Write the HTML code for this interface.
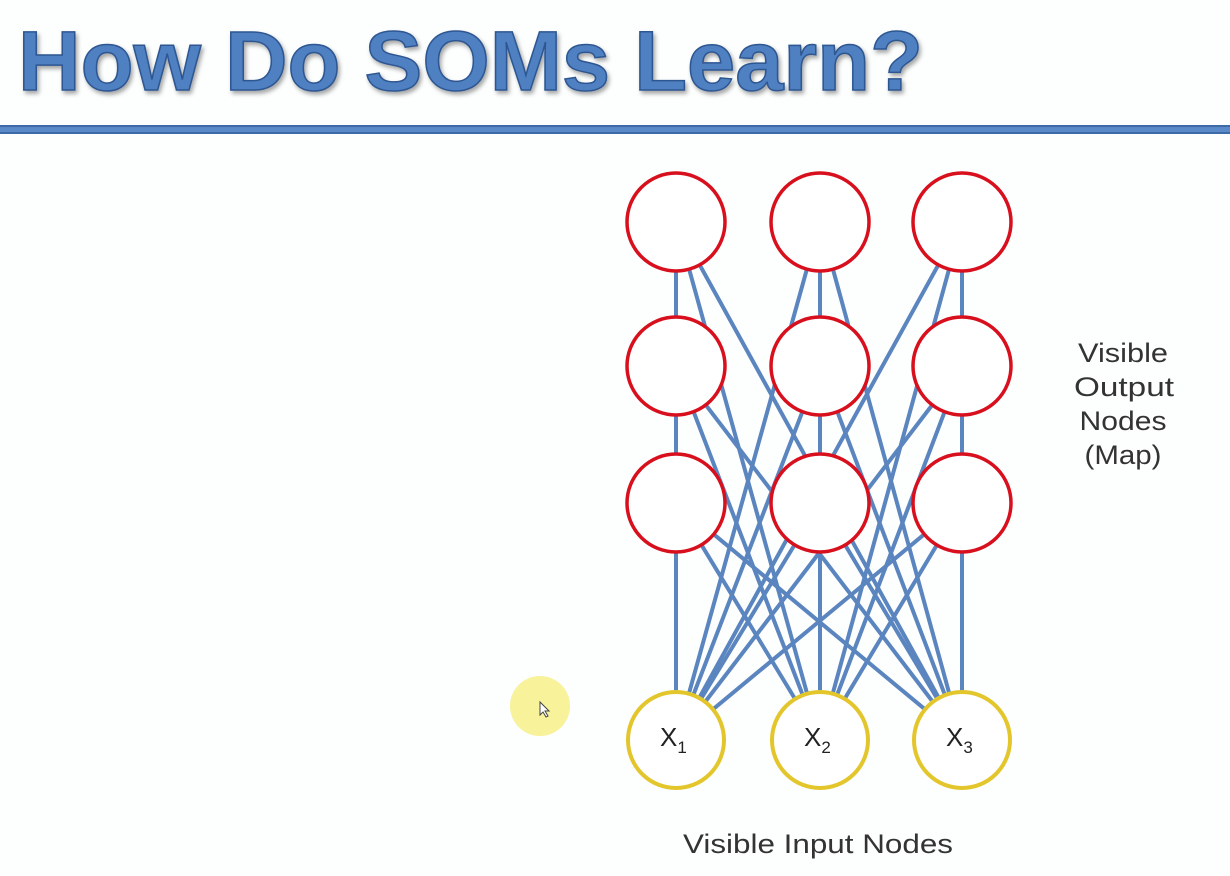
<!DOCTYPE html>
<html><head><style>
html,body{margin:0;padding:0;background:#fdfefe;}
svg{display:block}
</style></head><body>
<svg width="1230" height="876" viewBox="0 0 1230 876" xmlns="http://www.w3.org/2000/svg">
<defs>
<filter id="sh" x="-5%" y="-20%" width="110%" height="140%"><feDropShadow dx="2" dy="3" stdDeviation="2" flood-color="#000" flood-opacity="0.35"/></filter>
</defs>
<rect width="1230" height="876" fill="#fdfefe"/>
<text x="18" y="90" font-family="Liberation Sans, sans-serif" font-weight="bold" font-size="84" fill="#4f80c2" stroke="#2d5791" stroke-width="1.5" textLength="905" lengthAdjust="spacingAndGlyphs" filter="url(#sh)">How Do SOMs Learn?</text>
<rect x="0" y="125" width="1230" height="9" fill="#3e6aa8"/>
<rect x="0" y="127" width="1230" height="5" fill="#5a8ac8"/>
<circle cx="540" cy="706" r="30" fill="#f7f08a" opacity="0.85"/>
<path d="M540 702 l0 13 l3 -3 l3 5 l2 -1 l-3 -5 l4 0 z" fill="#fff" stroke="#444" stroke-width="1"/>
<g stroke="#5a85bf" stroke-width="4">
<line x1="676" y1="740" x2="676" y2="222"/><line x1="676" y1="740" x2="820" y2="222"/><line x1="676" y1="740" x2="962" y2="222"/>
<line x1="676" y1="740" x2="676" y2="366"/><line x1="676" y1="740" x2="820" y2="366"/><line x1="676" y1="740" x2="962" y2="366"/>
<line x1="676" y1="740" x2="676" y2="503"/><line x1="676" y1="740" x2="820" y2="503"/><line x1="676" y1="740" x2="962" y2="503"/>
<line x1="820" y1="740" x2="676" y2="222"/><line x1="820" y1="740" x2="820" y2="222"/><line x1="820" y1="740" x2="962" y2="222"/>
<line x1="820" y1="740" x2="676" y2="366"/><line x1="820" y1="740" x2="820" y2="366"/><line x1="820" y1="740" x2="962" y2="366"/>
<line x1="820" y1="740" x2="676" y2="503"/><line x1="820" y1="740" x2="820" y2="503"/><line x1="820" y1="740" x2="962" y2="503"/>
<line x1="962" y1="740" x2="676" y2="222"/><line x1="962" y1="740" x2="820" y2="222"/><line x1="962" y1="740" x2="962" y2="222"/>
<line x1="962" y1="740" x2="676" y2="366"/><line x1="962" y1="740" x2="820" y2="366"/><line x1="962" y1="740" x2="962" y2="366"/>
<line x1="962" y1="740" x2="676" y2="503"/><line x1="962" y1="740" x2="820" y2="503"/><line x1="962" y1="740" x2="962" y2="503"/>
</g>
<g fill="#fff" stroke="#d8101e" stroke-width="3.5">
<circle cx="676" cy="222" r="49"/><circle cx="820" cy="222" r="49"/><circle cx="962" cy="222" r="49"/>
<circle cx="676" cy="366" r="49"/><circle cx="820" cy="366" r="49"/><circle cx="962" cy="366" r="49"/>
<circle cx="676" cy="503" r="49"/><circle cx="820" cy="503" r="49"/><circle cx="962" cy="503" r="49"/>
</g>
<g fill="#fff" stroke="#e3c62c" stroke-width="4">
<circle cx="676" cy="740" r="48"/><circle cx="820" cy="740" r="48"/><circle cx="962" cy="740" r="48"/>
</g>
<g font-family="Liberation Sans, sans-serif" fill="#222" font-size="26">
<text x="660" y="746">X<tspan font-size="17" dy="7">1</tspan></text>
<text x="804" y="746">X<tspan font-size="17" dy="7">2</tspan></text>
<text x="946" y="746">X<tspan font-size="17" dy="7">3</tspan></text>
</g>
<g font-family="Liberation Sans, sans-serif" fill="#333" font-size="27" text-anchor="middle">
<text x="1123" y="362" textLength="90" lengthAdjust="spacingAndGlyphs">Visible</text>
<text x="1124" y="396" textLength="100" lengthAdjust="spacingAndGlyphs">Output</text>
<text x="1123" y="430" textLength="87" lengthAdjust="spacingAndGlyphs">Nodes</text>
<text x="1123" y="464" textLength="77" lengthAdjust="spacingAndGlyphs">(Map)</text>
<text x="818" y="853" textLength="270" lengthAdjust="spacingAndGlyphs">Visible Input Nodes</text>
</g>
</svg>
</body></html>
